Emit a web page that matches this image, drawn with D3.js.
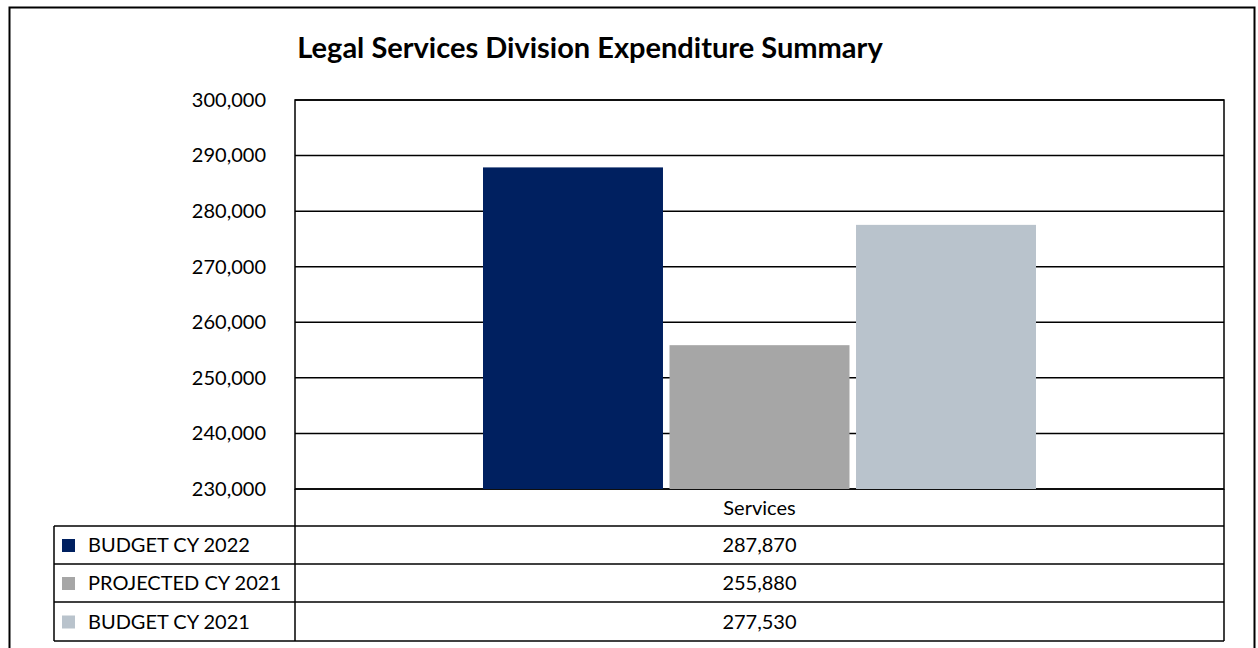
<!DOCTYPE html>
<html>
<head>
<meta charset="utf-8">
<script src="https://cdn.jsdelivr.net/npm/d3@7"></script>
<style>
  html, body { margin: 0; padding: 0; background: #fff; }
  svg { display: block; }
  text { font-family: Lato, "Open Sans", sans-serif; fill: #000; }
</style>
</head>
<body>
<svg id="chart" width="1258" height="648"></svg>
<script>
// Expenditure data
const categories = ["Services"];
const seriesNames = ["BUDGET CY 2022", "PROJECTED CY 2021", "BUDGET CY 2021"];
const seriesValues = [287870, 255880, 277530];
const seriesColors = ["#002060", "#a6a6a6", "#b9c3cc"];
const yTicks = [230000, 240000, 250000, 260000, 270000, 280000, 290000, 300000];
const title = "Legal Services Division Expenditure Summary";

const svg = d3.select("#chart");
const W = 1258, H = 648;
const labelSize = "20px";

// Outer chart frame (bottom edge runs past the page)
svg.append("path")
  .attr("d", `M9.5,${H + 2} V7.5 H1254.5 V${H + 2}`)
  .attr("fill", "none").attr("stroke", "#000").attr("stroke-width", 2);

// Title
svg.append("text")
  .attr("x", 590).attr("y", 58)
  .attr("text-anchor", "middle")
  .style("font-size", "29px").style("font-weight", "bold")
  .text(title);

const plot = { left: 295, right: 1224, top: 100, bottom: 489 };
const y = d3.scaleLinear().domain([230000, 300000]).range([plot.bottom, plot.top]);
const x0 = d3.scaleBand().domain(categories).range([plot.left, plot.right]);
const barGroupW = 553;
const x1 = d3.scaleBand().domain(seriesNames).range([0, barGroupW]).paddingInner(0.035);

// Plot area frame
svg.append("rect")
  .attr("x", plot.left).attr("y", plot.top)
  .attr("width", plot.right - plot.left).attr("height", plot.bottom - plot.top)
  .attr("fill", "#fff").attr("stroke", "#000").attr("stroke-width", 1.5);

// Gridlines
svg.append("g").selectAll("line").data(yTicks).join("line")
  .attr("x1", plot.left).attr("x2", plot.right)
  .attr("y1", d => y(d)).attr("y2", d => y(d))
  .attr("stroke", "#000").attr("stroke-width", 1.5);

// Y axis labels
const fmt = d3.format(",");
const yAxis = d3.axisLeft(y).tickValues(yTicks).tickFormat(fmt).tickSize(0).tickPadding(29);
const yg = svg.append("g").attr("transform", `translate(${plot.left},0)`).call(yAxis);
yg.select(".domain").remove();
yg.selectAll("text").style("font-size", labelSize).style("font-family", "Lato, 'Open Sans', sans-serif").attr("fill", "#000");

// Bars
const groupX = x0(categories[0]) + (x0.bandwidth() - barGroupW) / 2;
svg.append("g").selectAll("rect").data(seriesNames).join("rect")
  .attr("x", (d) => groupX + x1(d))
  .attr("width", x1.bandwidth())
  .attr("y", (d, i) => y(seriesValues[i]))
  .attr("height", (d, i) => y(230000) - y(seriesValues[i]))
  .attr("fill", (d, i) => seriesColors[i]);

// Data table under the plot
const tbl = { left: 54, split: plot.left, right: plot.right, rows: [489, 526, 564, 602, 641] };
const tg = svg.append("g");
// category header row
tg.append("text")
  .attr("x", x0(categories[0]) + x0.bandwidth() / 2).attr("y", (tbl.rows[0] + tbl.rows[1]) / 2 + 7)
  .attr("text-anchor", "middle").style("font-size", labelSize)
  .text(categories[0]);
// horizontal lines
tg.selectAll("line.h").data(tbl.rows.slice(1)).join("line")
  .attr("class", "h")
  .attr("x1", tbl.left).attr("x2", tbl.right)
  .attr("y1", d => d).attr("y2", d => d)
  .attr("stroke", "#000").attr("stroke-width", 1.5);
// vertical lines
tg.append("line").attr("x1", tbl.left).attr("x2", tbl.left)
  .attr("y1", tbl.rows[1]).attr("y2", tbl.rows[4]).attr("stroke", "#000").attr("stroke-width", 1.5);
tg.append("line").attr("x1", tbl.split).attr("x2", tbl.split)
  .attr("y1", tbl.rows[0]).attr("y2", tbl.rows[4]).attr("stroke", "#000").attr("stroke-width", 1.5);
tg.append("line").attr("x1", tbl.right).attr("x2", tbl.right)
  .attr("y1", tbl.rows[0]).attr("y2", tbl.rows[4]).attr("stroke", "#000").attr("stroke-width", 1.5);

const rowsG = tg.selectAll("g.row").data(seriesNames).join("g").attr("class", "row")
  .attr("transform", (d, i) => `translate(0,${(tbl.rows[i + 1] + tbl.rows[i + 2]) / 2})`);
rowsG.append("rect")
  .attr("x", 62).attr("y", -6).attr("width", 13).attr("height", 13)
  .attr("fill", (d, i) => seriesColors[i]);
rowsG.append("text")
  .attr("x", 88).attr("y", 7)
  .style("font-size", labelSize)
  .text(d => d);
rowsG.append("text")
  .attr("x", x0(categories[0]) + x0.bandwidth() / 2).attr("y", 7)
  .attr("text-anchor", "middle").style("font-size", labelSize)
  .text((d, i) => fmt(seriesValues[i]));
</script>
</body>
</html>
